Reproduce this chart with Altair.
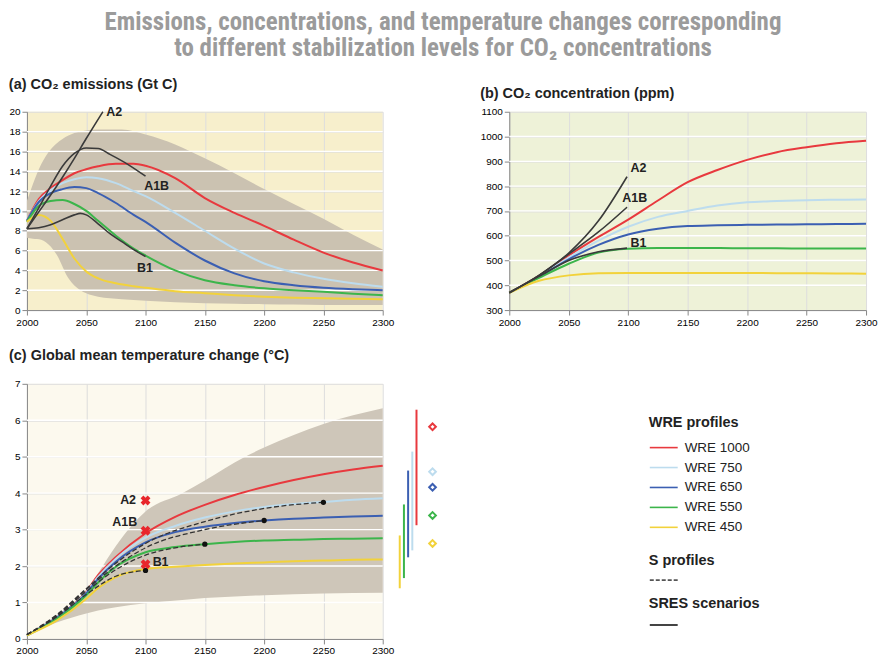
import altair as alt
import pandas as pd

FONT_T = "Roboto Condensed, Liberation Sans Narrow, DejaVu Sans Condensed, Arial Narrow, Liberation Sans, sans-serif"
FONT = "Liberation Sans, Arial, Helvetica, sans-serif"

# ---------------- text ----------------
main_title = ["Emissions, concentrations, and temperature changes corresponding",
              "to different stabilization levels for CO\u2082 concentrations"]
title_a = "(a) CO\u2082 emissions (Gt C)"
title_b = "(b) CO\u2082 concentration (ppm)"
title_c = "(c) Global mean temperature change (\u00b0C)"

# ---------------- categories ----------------
wre_names = ["WRE 1000", "WRE 750", "WRE 650", "WRE 550", "WRE 450"]
wre_colors = ["#e8393e", "#bddcee", "#3b5fb2", "#3cb54b", "#f2d23b"]
sres_names = ["A2", "A1B", "B1"]
s_names = ["S450", "S550", "S650", "S750"]
x_ticks = [2000, 2050, 2100, 2150, 2200, 2250, 2300]
y_ticks_a = [0, 2, 4, 6, 8, 10, 12, 14, 16, 18, 20]
y_ticks_b = [300, 400, 500, 600, 700, 800, 900, 1000, 1100]
y_ticks_c = [0, 1, 2, 3, 4, 5, 6, 7]
grid_a = [2, 4, 6, 8, 10, 12, 14, 16, 18]
grid_b = [400, 500, 600, 700, 800, 900, 1000]
grid_c = [1, 2, 3, 4, 5, 6]

# ---------------- (a) emissions ----------------
years_a = [2000, 2010, 2020, 2030, 2040, 2050, 2060, 2075, 2090, 2100,
           2125, 2150, 2175, 2200, 2225, 2250, 2275, 2300]
emis_1000 = [9.0, 11.2, 12.3, 13.1, 13.8, 14.2, 14.5, 14.75, 14.75, 14.55,
             13.3, 11.3, 9.8, 8.5, 7.1, 5.8, 4.8, 4.0]
emis_750 = [9.0, 11.0, 12.1, 12.8, 13.2, 13.4, 13.3, 12.8, 12.0, 11.5,
            9.8, 8.0, 6.2, 4.7, 3.8, 3.15, 2.7, 2.35]
emis_650 = [9.0, 10.9, 11.8, 12.2, 12.4, 12.3, 11.8, 10.8, 9.6, 8.9,
            6.8, 5.0, 3.7, 2.9, 2.5, 2.25, 2.1, 2.0]
emis_550 = [8.9, 10.5, 11.0, 11.1, 10.7, 10.0, 9.0, 7.5, 6.2, 5.5,
            4.0, 3.0, 2.5, 2.2, 2.0, 1.85, 1.65, 1.5]
emis_450 = [8.9, 9.6, 9.0, 7.2, 5.2, 3.9, 3.2, 2.7, 2.4, 2.25,
            1.9, 1.7, 1.5, 1.35, 1.25, 1.2, 1.15, 1.1]
band_a_years = [2000, 2005, 2012, 2020, 2025, 2035, 2045, 2050, 2060, 2080,
                2100, 2125, 2150, 2175, 2200, 2225, 2250, 2275, 2300]
band_a_upper = [11.0, 12.7, 14.7, 16.2, 16.8, 17.6, 18.0, 18.1, 18.2, 18.2,
                17.7, 16.7, 15.3, 13.8, 12.2, 10.7, 9.2, 7.6, 6.1]
band_a_lower = [7.3, 7.2, 7.1, 6.4, 5.6, 3.2, 2.0, 1.7, 1.35, 1.1,
                0.95, 0.8, 0.7, 0.65, 0.6, 0.55, 0.5, 0.5, 0.5]
a2_years_a = [2000, 2010, 2020, 2030, 2040, 2050, 2064]
a2_emis = [8.2, 9.9, 11.6, 13.4, 15.3, 17.3, 20.0]
a1b_years_a = [2000, 2010, 2020, 2030, 2040, 2050, 2060, 2070, 2085, 2100]
a1b_emis = [8.2, 10.3, 12.5, 14.5, 15.8, 16.35, 16.3, 15.7, 14.7, 13.5]
b1_years_a = [2000, 2010, 2020, 2030, 2040, 2045, 2050, 2060, 2070, 2080, 2090, 2100]
b1_emis = [8.2, 8.3, 8.6, 9.1, 9.6, 9.75, 9.6, 8.7, 7.7, 6.9, 6.1, 5.4]
label_a_year = [2066, 2098, 2092]
label_a_value = [20.0, 12.5, 4.2]

# ---------------- (b) concentration ----------------
years_b = [2000, 2025, 2050, 2075, 2100, 2125, 2150, 2175, 2200, 2225, 2250, 2275, 2300]
conc_1000 = [370, 438, 520, 595, 665, 742, 816, 865, 906, 937, 957, 973, 983]
conc_750 = [370, 436, 512, 580, 636, 676, 700, 722, 735, 740, 743, 745, 746]
conc_650 = [370, 434, 505, 563, 605, 628, 639, 642, 644, 645, 646, 647, 648]
conc_550 = [370, 430, 487, 532, 547, 550, 550, 550, 549, 549, 548, 548, 548]
conc_450 = [370, 418, 440, 449, 450, 450, 450, 450, 450, 449, 449, 448, 447]
sres_years_b = [2000, 2025, 2050, 2075, 2099]
a2_conc = [370, 440, 530, 660, 838]
a1b_conc = [370, 440, 526, 615, 715]
b1_conc = [370, 436, 500, 535, 550]
label_b_year = [2102, 2095, 2102]
label_b_value = [875, 754, 569]

# ---------------- (c) temperature ----------------
years_c = [2000, 2025, 2050, 2060, 2075, 2100, 2125, 2150, 2175, 2200, 2225, 2250, 2275, 2300]
temp_1000 = [0.1, 0.6, 1.3, 1.75, 2.25, 2.9, 3.35, 3.68, 3.95, 4.17, 4.36, 4.52, 4.65, 4.75]
temp_750 = [0.1, 0.6, 1.28, 1.7, 2.2, 2.78, 3.1, 3.33, 3.5, 3.62, 3.7, 3.76, 3.82, 3.86]
temp_650 = [0.1, 0.58, 1.25, 1.65, 2.12, 2.65, 2.93, 3.08, 3.18, 3.25, 3.3, 3.33, 3.36, 3.38]
temp_550 = [0.1, 0.55, 1.2, 1.55, 1.98, 2.38, 2.52, 2.6, 2.66, 2.7, 2.72, 2.74, 2.75, 2.76]
temp_450 = [0.1, 0.5, 1.1, 1.4, 1.7, 1.92, 1.98, 2.03, 2.07, 2.1, 2.13, 2.15, 2.17, 2.18]
band_c_years = [2000, 2025, 2050, 2060, 2075, 2100, 2131, 2150, 2184, 2200, 2250, 2300]
band_c_upper = [0.1, 0.65, 1.3, 1.8, 2.55, 3.5, 4.0, 4.35, 5.0, 5.25, 5.9, 6.33]
band_c_lower = [0.1, 0.45, 0.7, 0.78, 0.87, 0.98, 1.07, 1.12, 1.18, 1.2, 1.25, 1.27]
s450_years = [2000, 2025, 2050, 2075, 2100]
s450_temp = [0.12, 0.6, 1.22, 1.72, 1.88]
s550_years = [2000, 2025, 2050, 2075, 2100, 2125, 2150]
s550_temp = [0.12, 0.62, 1.3, 1.9, 2.3, 2.5, 2.6]
s650_years = [2000, 2025, 2050, 2075, 2100, 2150, 2200]
s650_temp = [0.12, 0.64, 1.35, 2.0, 2.5, 3.0, 3.25]
s750_years = [2000, 2025, 2050, 2075, 2100, 2150, 2200, 2250]
s750_temp = [0.12, 0.66, 1.38, 2.08, 2.62, 3.22, 3.58, 3.75]
sres_temp_year = [2100, 2100, 2100]
sres_temp = [3.8, 2.97, 2.05]
label_c_year = [2092, 2093, 2106]
label_c_value = [3.8, 3.2, 2.1]
# ranges at 2300 (order as wre_names)
range_low = [3.12, 2.43, 2.24, 1.67, 1.39]
range_high = [6.29, 5.14, 4.62, 3.69, 2.84]
range_mark = [5.82, 4.59, 4.16, 3.39, 2.62]
bar_order = ["WRE 450", "WRE 550", "WRE 650", "WRE 750", "WRE 1000"]

# legend rows (row index units)
legend_entry_rows = [3.2, 4.2, 5.2, 6.2, 7.2]
legend_header_rows = [1.95, 8.9, 11.05]
legend_headers = ["WRE profiles", "S profiles", "SRES scenarios"]
LEG_X = 201  # legend left offset inside its panel


# ---------------- helpers ----------------
def long_df(years_list, values_list, names):
    rows = []
    for years, vals, name in zip(years_list, values_list, names):
        for y, v in zip(years, vals):
            rows.append({"year": y, "value": v, "name": name})
    return pd.DataFrame(rows)


color_scale = alt.Scale(domain=wre_names, range=wre_colors)


def x_enc():
    return alt.X("year:Q", scale=alt.Scale(domain=[2000, 2300], nice=False, zero=False),
                 axis=alt.Axis(values=x_ticks, format="d", title=None, labelFlush=False))


def y_enc(field, domain, ticks, axis=True):
    ax = alt.Axis(values=ticks, format="d", title=None, minExtent=18, labelOverlap=False) if axis else None
    return alt.Y(field, scale=alt.Scale(domain=domain, nice=False, zero=False), axis=ax)


def base_layers(band_color, band_df, grid_vals, wre_df, domain, ticks):
    band = alt.Chart(band_df).mark_area(color=band_color, interpolate="monotone").encode(
        x=x_enc(), y=y_enc("upper:Q", domain, ticks), y2="lower:Q")
    grid = alt.Chart(pd.DataFrame({"g": grid_vals})).mark_rule(color="white", strokeWidth=1.4).encode(
        y=y_enc("g:Q", domain, ticks))
    wre = alt.Chart(wre_df).mark_line(strokeWidth=2, interpolate="monotone").encode(
        x=x_enc(), y=y_enc("value:Q", domain, ticks),
        color=alt.Color("name:N", scale=color_scale, legend=None))
    return band, grid, wre


bg_a, bg_b, bg_c = "#f7efcc", "#eef2d8", "#fcf9ee"
band_col_a, band_col_c = "#cbc2b1", "#cec6b9"
sres_col = "#3a3a3a"

title_style = dict(anchor="start", frame="bounds", fontSize=14.5, fontWeight="bold",
                   color="#222222", font=FONT)
lab_style = dict(baseline="middle", fontSize=12.5, fontWeight="bold", color="#222", font=FONT)

# ---------------- panel (a) ----------------
wre_a = long_df([years_a] * 5, [emis_1000, emis_750, emis_650, emis_550, emis_450], wre_names)
band_a = pd.DataFrame({"year": band_a_years, "upper": band_a_upper, "lower": band_a_lower})
sres_a = long_df([a2_years_a, a1b_years_a, b1_years_a], [a2_emis, a1b_emis, b1_emis], sres_names)
lab_a = pd.DataFrame({"year": label_a_year, "value": label_a_value, "label": sres_names})

dom_a = [0, 20]
band_l, grid_l, wre_l = base_layers(band_col_a, band_a, grid_a, wre_a, dom_a, y_ticks_a)
sres_l = alt.Chart(sres_a).mark_line(color=sres_col, strokeWidth=1.6, interpolate="monotone").encode(
    x=x_enc(), y=y_enc("value:Q", dom_a, y_ticks_a), detail="name:N")
labs_l = alt.Chart(lab_a).mark_text(align="left", dx=1, **lab_style).encode(
    x=x_enc(), y=y_enc("value:Q", dom_a, y_ticks_a), text="label:N")
chart_a = alt.layer(band_l, grid_l, wre_l, sres_l, labs_l).properties(
    width=357, height=199, view=alt.ViewBackground(fill=bg_a, stroke=None),
    title=alt.TitleParams(title_a, offset=13, **title_style))

# ---------------- panel (b) ----------------
wre_b = long_df([years_b] * 5, [conc_1000, conc_750, conc_650, conc_550, conc_450], wre_names)
sres_b = long_df([sres_years_b] * 3, [a2_conc, a1b_conc, b1_conc], sres_names)
lab_b = pd.DataFrame({"year": label_b_year, "value": label_b_value, "label": sres_names})
dom_b = [300, 1100]
grid_lb = alt.Chart(pd.DataFrame({"g": grid_b})).mark_rule(color="white", strokeWidth=1.4).encode(
    y=y_enc("g:Q", dom_b, y_ticks_b))
wre_lb = alt.Chart(wre_b).mark_line(strokeWidth=2, interpolate="monotone").encode(
    x=x_enc(), y=y_enc("value:Q", dom_b, y_ticks_b),
    color=alt.Color("name:N", scale=color_scale, legend=None))
sres_lb = alt.Chart(sres_b).mark_line(color=sres_col, strokeWidth=1.6, interpolate="monotone").encode(
    x=x_enc(), y=y_enc("value:Q", dom_b, y_ticks_b), detail="name:N")
labs_lb = alt.Chart(lab_b).mark_text(align="left", **lab_style).encode(
    x=x_enc(), y=y_enc("value:Q", dom_b, y_ticks_b), text="label:N")
chart_b = alt.layer(grid_lb, wre_lb, sres_lb, labs_lb).properties(
    width=358, height=199, view=alt.ViewBackground(fill=bg_b, stroke=None),
    title=alt.TitleParams(title_b, offset=5, **title_style))

# ---------------- panel (c) ----------------
wre_c = long_df([years_c] * 5, [temp_1000, temp_750, temp_650, temp_550, temp_450], wre_names)
band_cdf = pd.DataFrame({"year": band_c_years, "upper": band_c_upper, "lower": band_c_lower})
s_c = long_df([s450_years, s550_years, s650_years, s750_years],
              [s450_temp, s550_temp, s650_temp, s750_temp], s_names)
s_end = pd.DataFrame({"year": [s450_years[-1], s550_years[-1], s650_years[-1], s750_years[-1]],
                      "value": [s450_temp[-1], s550_temp[-1], s650_temp[-1], s750_temp[-1]]})
x_c = pd.DataFrame({"year": sres_temp_year, "value": sres_temp, "label": sres_names})
lab_c = pd.DataFrame({"year": label_c_year, "value": label_c_value, "label": sres_names})
dom_c = [0, 7]
band_lc, grid_lc, wre_lc = base_layers(band_col_c, band_cdf, grid_c, wre_c, dom_c, y_ticks_c)
s_lc = alt.Chart(s_c).mark_line(color="#333", strokeWidth=1.3, strokeDash=[5, 2.5], interpolate="monotone").encode(
    x=x_enc(), y=y_enc("value:Q", dom_c, y_ticks_c), detail="name:N")
dots_lc = alt.Chart(s_end).mark_circle(color="#111", size=28, opacity=1).encode(
    x=x_enc(), y=y_enc("value:Q", dom_c, y_ticks_c))
xs_lc = alt.Chart(x_c).mark_point(shape="cross", angle=45, filled=True, color="#e8262c", size=100, opacity=1).encode(
    x=x_enc(), y=y_enc("value:Q", dom_c, y_ticks_c))
labs_right = alt.Chart(lab_c).transform_filter(alt.datum.label != "B1").mark_text(
    align="right", **lab_style).encode(
    x=x_enc(), y=y_enc("value:Q", dom_c, y_ticks_c), text="label:N")
labs_left = alt.Chart(lab_c).transform_filter(alt.datum.label == "B1").mark_text(
    align="left", **lab_style).encode(
    x=x_enc(), y=y_enc("value:Q", dom_c, y_ticks_c), text="label:N")
chart_c = alt.layer(band_lc, grid_lc, wre_lc, s_lc, dots_lc, xs_lc, labs_right, labs_left).properties(
    width=357, height=256, view=alt.ViewBackground(fill=bg_c, stroke=None),
    title=alt.TitleParams(title_c, offset=15, **title_style))

# ---------------- ranges at 2300 + legend ----------------
rng = pd.DataFrame({"name": wre_names, "low": range_low, "high": range_high, "mark": range_mark})
bar_x = alt.X("name:N", scale=alt.Scale(type="point", domain=bar_order, range=[3, 24]), axis=None)
rng_bars = alt.Chart(rng).mark_rule(strokeWidth=2).encode(
    x=bar_x, y=y_enc("low:Q", dom_c, y_ticks_c, axis=False), y2="high:Q",
    color=alt.Color("name:N", scale=color_scale, legend=None))
rng_marks = alt.Chart(rng).mark_point(shape="diamond", filled=False, strokeWidth=2, size=45, opacity=1).encode(
    x=alt.value(38), y=y_enc("mark:Q", dom_c, y_ticks_c, axis=False),
    color=alt.Color("name:N", scale=color_scale, legend=None))
chart_rng = alt.layer(rng_bars, rng_marks).properties(
    width=42, height=256, view=alt.ViewBackground(stroke=None))

leg_entries = pd.DataFrame({"name": wre_names, "row": legend_entry_rows})
leg_heads = pd.DataFrame({"label": legend_headers, "row": legend_header_rows})
leg_y = alt.Y("row:Q", scale=alt.Scale(domain=[0, 12.8], reverse=True, nice=False, zero=False), axis=None)
leg_lines = alt.Chart(leg_entries).mark_rule(strokeWidth=1.6).encode(
    x=alt.value(LEG_X + 1), x2=alt.value(LEG_X + 29), y=leg_y,
    color=alt.Color("name:N", scale=color_scale, legend=None))
leg_text = alt.Chart(leg_entries).mark_text(align="left", baseline="middle", fontSize=13.5,
                                            color="#222", font=FONT).encode(
    x=alt.value(LEG_X + 36), y=leg_y, text="name:N")
leg_head = alt.Chart(leg_heads).mark_text(align="left", baseline="middle", fontSize=14.5, fontWeight="bold",
                                          color="#222", font=FONT).encode(
    x=alt.value(LEG_X), y=leg_y, text="label:N")
leg_s = alt.Chart(pd.DataFrame({"row": [legend_header_rows[1] + 0.95]})).mark_rule(
    strokeWidth=1.6, color="#555", strokeDash=[4, 2]).encode(
    x=alt.value(LEG_X + 1), x2=alt.value(LEG_X + 29), y=leg_y)
leg_sres = alt.Chart(pd.DataFrame({"row": [legend_header_rows[2] + 1.05]})).mark_rule(
    strokeWidth=2, color="#444").encode(x=alt.value(LEG_X + 1), x2=alt.value(LEG_X + 29), y=leg_y)
chart_leg = alt.layer(leg_lines, leg_text, leg_head, leg_s, leg_sres).properties(
    width=LEG_X + 150, height=256, view=alt.ViewBackground(stroke=None))

# ---------------- assemble ----------------
top = alt.HConcatChart(hconcat=[chart_a, chart_b], spacing=127, bounds="flush")
bottom = alt.HConcatChart(hconcat=[chart_c, chart_rng, chart_leg], spacing=12, bounds="flush")
chart = alt.VConcatChart(vconcat=[top, bottom], spacing=21).properties(
    padding={"left": 0, "top": 0, "right": 0, "bottom": 0},
    title=alt.TitleParams(main_title, fontSize=25, fontWeight="bold", color="#9b9b9b", font=FONT_T,
                          anchor="middle", lineHeight=27, offset=16, frame="bounds"),
).configure_axis(
    labelFont=FONT, labelFontSize=11.5, labelColor="#333333", domainColor="#222222",
    tickColor="#222222", tickSize=5, labelPadding=2, grid=False,
).configure_view(stroke=None).configure(background="white")

chart.save("out.html", embed_options={"renderer": "svg", "actions": False})
